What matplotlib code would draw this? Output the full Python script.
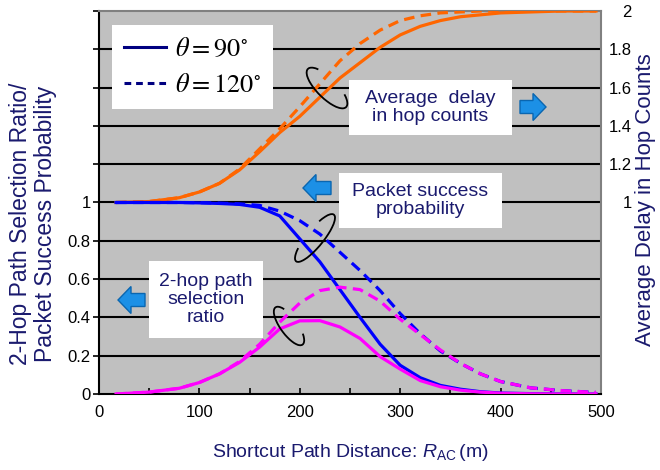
import matplotlib
matplotlib.use('Agg')
from matplotlib import pyplot as plt
from matplotlib.font_manager import FontProperties
from matplotlib.lines import Line2D
from matplotlib.patches import Arc, FancyArrow, Rectangle
from matplotlib.transforms import IdentityTransform
import numpy as np

plt.rcParams['font.family'] = ['Liberation Sans', 'DejaVu Sans']
plt.rcParams['mathtext.fontset'] = 'custom'
plt.rcParams['mathtext.rm'] = 'Liberation Sans'
plt.rcParams['mathtext.it'] = 'Liberation Sans:italic'

# shortcut path distance R_AC (m)
dist = [17, 50, 80, 100, 120, 140, 160, 180, 200, 220, 240, 260, 280,
        300, 320, 340, 360, 380, 400, 430, 460, 495]

# average delay in hop counts (right scale)
delay_90 = [1.0, 1.005, 1.025, 1.055, 1.10, 1.17, 1.265, 1.365, 1.45, 1.55, 1.65,
            1.73, 1.81, 1.875, 1.92, 1.95, 1.97, 1.98, 1.99, 1.995, 2.0, 2.0]
delay_120 = [1.0, 1.005, 1.025, 1.055, 1.10, 1.175, 1.28, 1.385, 1.50, 1.62, 1.74,
             1.83, 1.90, 1.95, 1.975, 1.99, 1.995, 2.0, 2.0, 2.0, 2.0, 2.0]

# packet success probability
success_90 = [1.0, 1.0, 1.0, 0.998, 0.995, 0.99, 0.975, 0.93, 0.81, 0.69, 0.545,
              0.40, 0.26, 0.15, 0.085, 0.045, 0.025, 0.012, 0.005, 0.002, 0.0, 0.0]
success_120 = [1.0, 1.0, 1.0, 0.999, 0.997, 0.993, 0.985, 0.955, 0.905, 0.835, 0.74,
               0.645, 0.54, 0.42, 0.315, 0.225, 0.16, 0.105, 0.065, 0.032, 0.018, 0.008]

# 2-hop path selection ratio
ratio_90 = [0.0, 0.01, 0.03, 0.06, 0.105, 0.165, 0.245, 0.34, 0.382, 0.383, 0.35,
            0.29, 0.195, 0.13, 0.07, 0.038, 0.02, 0.01, 0.004, 0.001, 0.0, 0.0]
ratio_120 = [0.0, 0.01, 0.03, 0.06, 0.105, 0.17, 0.26, 0.375, 0.475, 0.54, 0.558,
             0.545, 0.485, 0.39, 0.31, 0.23, 0.16, 0.105, 0.065, 0.032, 0.018, 0.008]

left_ticks = np.round(np.arange(0, 2.01, 0.2), 1)
right_ticks = np.round(np.arange(1, 2.01, 0.2), 1)
x_ticks = [0, 100, 200, 300, 400, 500]

navy = '#1a1a6e'
dash = (3.3, 2.0)
lw = 2.3

fig = plt.figure(figsize=(6.6, 4.7), dpi=100)
ax = fig.add_axes([0.150, 0.1617, 0.7606, 0.8149])
ax.set_facecolor('#c0c0c0')

ax.plot(dist, delay_90, color='#ff6600', lw=lw, zorder=3)
ax.plot(dist, delay_120, color='#ff6600', lw=lw, dashes=dash, zorder=3)
ax.plot(dist, success_90, color='#0000ff', lw=lw, zorder=3)
ax.plot(dist, success_120, color='#0000ff', lw=lw, dashes=dash, zorder=3)
ax.plot(dist, ratio_90, color='#ff00ff', lw=lw, zorder=3)
ax.plot(dist, ratio_120, color='#ff00ff', lw=lw, dashes=dash, zorder=3)

ax.set_xlim(0, 500)
ax.set_ylim(0, 2)
ax.set_xticks(x_ticks)
ax.set_xticks(np.arange(50, 500, 100), minor=True)
ax.set_yticks(left_ticks)
ax.set_yticklabels(['%g' % t if t <= 1 else '' for t in left_ticks])
for t in left_ticks[1:-1]:
    ax.axhline(t, color='black', lw=1.5, zorder=1)

ax.tick_params(axis='x', which='both', direction='in', length=4, width=1.2,
               labelsize=12, pad=8)
ax.tick_params(axis='y', direction='out', length=4, width=1.2, labelsize=12, pad=2)
for s in ['left', 'bottom']:
    ax.spines[s].set_color('black')
    ax.spines[s].set_linewidth(1.5)
for s in ['top', 'right']:
    ax.spines[s].set_color('#808080')
    ax.spines[s].set_linewidth(1.5)

ax.set_xlabel('Shortcut Path Distance: $\\mathit{R}_{\\rm AC}\\,$(m)', color=navy,
              fontsize=14)
ax.xaxis.set_label_coords(0.5, -0.125)
ax.set_ylabel('2-Hop Path Selection Ratio/\nPacket Success Probability',
              color=navy, fontsize=16.5, linespacing=1.1)
ax.yaxis.set_label_coords(-0.084, 0.444)

ax2 = ax.twinx()
ax2.set_ylim(0, 2)
ax2.set_yticks(right_ticks)
ax2.set_yticklabels(['%g' % t for t in right_ticks], ha='right')
ax2.tick_params(axis='y', length=0, labelsize=12, pad=22)
for s in ax2.spines.values():
    s.set_visible(False)
ax2.set_ylabel('Average Delay in Hop Counts', color=navy, fontsize=16)
ax2.yaxis.set_label_coords(1.068, 0.507)

# legend (Times-like math text)
handles = [Line2D([], [], color='#000080', lw=2.2),
           Line2D([], [], color='#000080', lw=2.2, dashes=(2.2, 1.6))]
ax.legend(handles, [r'$\theta = 90^{\circ}$', r'$\theta = 120^{\circ}$'],
          loc='upper left', bbox_to_anchor=(0.026, 0.963), borderaxespad=0,
          prop=FontProperties(size=19, math_fontfamily='stix'),
          handlelength=1.6, handletextpad=0.35, labelspacing=0.45,
          borderpad=0.45, fancybox=False, framealpha=1, facecolor='white',
          edgecolor='none')

# white annotation boxes
boxes = [((0.498, 0.676), 0.325, 0.144, 'Average  delay\nin hop counts'),
         ((0.478, 0.433), 0.325, 0.144, 'Packet success\nprobability'),
         ((0.0996, 0.146), 0.2274, 0.201, '2-hop path\nselection\nratio')]
for (bx, by), bw, bh, txt in boxes:
    ax.add_patch(Rectangle((bx, by), bw, bh, transform=ax.transAxes,
                           facecolor='white', edgecolor='none', zorder=4))
    ax.text(bx + bw / 2, by + bh / 2, txt, transform=ax.transAxes, ha='center',
            va='center', color=navy, fontsize=14, linespacing=1.05, zorder=5)

# block arrows (pixel positions)
H = 470
arrows = [(520, 107, 26), (331, 188, -28), (145, 300, -27)]
for x0, y0, dx in arrows:
    ax.add_patch(FancyArrow(x0, H - y0, dx, 0, width=13, head_width=27,
                            head_length=13, length_includes_head=True,
                            facecolor='#1c90e6', edgecolor='#0a66b0', lw=1,
                            transform=IdentityTransform(), zorder=5))

# ellipses marking curve pairs
ellipses = [(327, 88, 54, 20, -45), (315, 238, 60, 17, 51), (289, 326, 46, 17, -54)]
for cx, cy, w, h, ang in ellipses:
    ax.add_patch(Arc((cx, H - cy), w, h, angle=ang, theta1=160, theta2=385,
                     color='black', lw=1.3, transform=IdentityTransform(),
                     zorder=6))

fig.savefig('out.png', dpi=100)
